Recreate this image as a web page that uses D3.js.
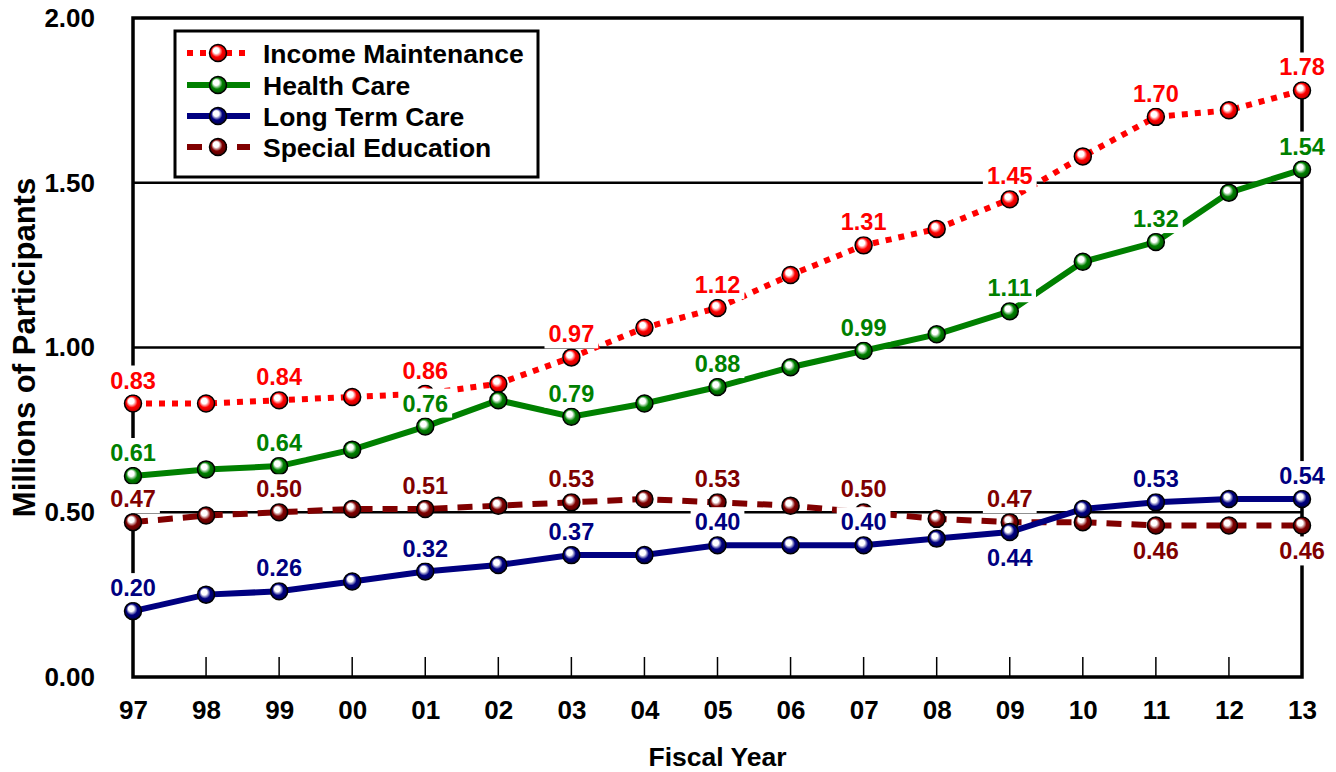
<!DOCTYPE html>
<html>
<head>
<meta charset="utf-8">
<script src="https://cdn.jsdelivr.net/npm/d3@7"></script>
<style>
  html, body { margin: 0; padding: 0; background: #fff; }
  svg { display: block; font-family: Arial, "Liberation Sans", sans-serif; font-weight: bold; }
</style>
</head>
<body>
<svg id="chart" width="1336" height="772"></svg>
<script>
// ---- Data ----
const years = ["97","98","99","00","01","02","03","04","05","06","07","08","09","10","11","12","13"];
const incomeMaintenance = [0.83,0.83,0.84,0.85,0.86,0.89,0.97,1.06,1.12,1.22,1.31,1.36,1.45,1.58,1.70,1.72,1.78];
const healthCare        = [0.61,0.63,0.64,0.69,0.76,0.84,0.79,0.83,0.88,0.94,0.99,1.04,1.11,1.26,1.32,1.47,1.54];
const longTermCare      = [0.20,0.25,0.26,0.29,0.32,0.34,0.37,0.37,0.40,0.40,0.40,0.42,0.44,0.51,0.53,0.54,0.54];
const specialEducation  = [0.47,0.49,0.50,0.51,0.51,0.52,0.53,0.54,0.53,0.52,0.50,0.48,0.47,0.47,0.46,0.46,0.46];
const yTicks = [0, 0.5, 1.0, 1.5, 2.0];
// label placement for labelled (every other) points: "a" above, "b" below
const labelPlaceIncome  = ["a","a","a","a","a","a","a","a","a"];
const labelPlaceHealth  = ["a","a","a","a","a","a","a","a","a"];
const labelPlaceLTC     = ["a","a","a","a","a","a","b","a","a"];
const labelPlaceSpecial = ["a","a","a","a","a","a","a","b","b"];

const series = [
  {name:"Income Maintenance", values:incomeMaintenance, color:"#ff0000", dark:"#a00000", dash:"6,7", place:labelPlaceIncome, id:"im"},
  {name:"Health Care",        values:healthCare,        color:"#008000", dark:"#004000", dash:null, place:labelPlaceHealth, id:"hc"},
  {name:"Long Term Care",     values:longTermCare,      color:"#000080", dark:"#000040", dash:null, place:labelPlaceLTC, id:"ltc"},
  {name:"Special Education",  values:specialEducation,  color:"#800000", dark:"#400000", dash:"15,10", place:labelPlaceSpecial, id:"se"}
];
const drawOrder = [0,1,3,2];

// ---- Layout ----
const svg = d3.select("#chart");
const L = 133, R = 1302, T = 18, B = 677;
const x = d3.scalePoint().domain(years).range([L, R]);
const y = d3.scaleLinear().domain([0, 2]).range([B, T]);
const FONT = "Arial, 'Liberation Sans', sans-serif";

// gradients
const defs = svg.append("defs");
series.forEach(s => {
  const g = defs.append("radialGradient").attr("id", "g-" + s.id)
    .attr("cx", "50%").attr("cy", "50%").attr("r", "60%").attr("fx", "35%").attr("fy", "30%");
  g.append("stop").attr("offset", "0%").attr("stop-color", "#ffffff");
  g.append("stop").attr("offset", "28%").attr("stop-color", "#ffffff");
  g.append("stop").attr("offset", "55%").attr("stop-color", s.color);
  g.append("stop").attr("offset", "100%").attr("stop-color", s.dark);
});

// gridlines
svg.append("g").selectAll("line").data(yTicks.filter(v => v > 0 && v < 2)).join("line")
  .attr("x1", L).attr("x2", R).attr("y1", d => y(d)).attr("y2", d => y(d))
  .attr("stroke", "#000").attr("stroke-width", 2.5);

// x tick marks (inside)
svg.append("g").selectAll("line").data(years.slice(1, -1)).join("line")
  .attr("x1", d => x(d)).attr("x2", d => x(d)).attr("y1", B).attr("y2", B - 20)
  .attr("stroke", "#000").attr("stroke-width", 1.5);

// frame
svg.append("rect").attr("x", L).attr("y", T).attr("width", R - L).attr("height", B - T)
  .attr("fill", "none").attr("stroke", "#000").attr("stroke-width", 3.5);

// y axis labels
const yAxis = d3.axisLeft(y).tickValues(yTicks).tickFormat(d3.format(".2f")).tickSize(0).tickPadding(38);
const gy = svg.append("g").attr("transform", `translate(${L},0)`).call(yAxis);
gy.select(".domain").remove();
gy.selectAll("text").attr("font-size", 26).attr("font-weight", "bold").attr("fill", "#000")
  .attr("font-family", FONT);

// x axis labels
const xAxis = d3.axisBottom(x).tickSize(0).tickPadding(24);
const gx = svg.append("g").attr("transform", `translate(0,${B})`).call(xAxis);
gx.select(".domain").remove();
gx.selectAll("text").attr("font-size", 26).attr("font-weight", "bold").attr("fill", "#000")
  .attr("font-family", FONT);

// axis titles
svg.append("text").attr("x", (L + R) / 2).attr("y", 766).attr("text-anchor", "middle")
  .attr("font-size", 26.5).text("Fiscal Year");
svg.append("text").attr("transform", `translate(35,${(T + B) / 2}) rotate(-90)`)
  .attr("text-anchor", "middle").attr("font-size", 31).text("Millions of Participants");

// lines
const line = d3.line().x((d, i) => x(years[i])).y(d => y(d));
drawOrder.forEach(k => {
  const s = series[k];
  svg.append("path").datum(s.values).attr("d", line).attr("fill", "none")
    .attr("stroke", s.color).attr("stroke-width", 6)
    .attr("stroke-dasharray", s.dash);
});
// markers
drawOrder.forEach(k => {
  const s = series[k];
  svg.append("g").selectAll("circle").data(s.values).join("circle")
    .attr("cx", (d, i) => x(years[i])).attr("cy", d => y(d)).attr("r", 8.5)
    .attr("fill", `url(#g-${s.id})`).attr("stroke", "#000").attr("stroke-width", 1.5);
});

// value labels (every other year)
const fmt = d3.format(".2f");
const labelsG = svg.append("g");
series.forEach(s => {
  s.values.forEach((v, i) => {
    if (i % 2 !== 0) return;
    const pl = s.place[i / 2];
    const cx = x(years[i]), cy = y(v);
    const by = pl === "a" ? cy - 15 : cy + 34;
    const g = labelsG.append("g");
    const t = g.append("text").attr("x", cx).attr("y", by).attr("text-anchor", "middle")
      .attr("font-size", 23.5).attr("fill", s.color).text(fmt(v));
    const bb = t.node().getBBox();
    g.insert("rect", "text").attr("x", bb.x - 4).attr("y", bb.y - 2)
      .attr("width", bb.width + 8).attr("height", bb.height + 3).attr("fill", "#fff");
  });
});

// legend
const lg = svg.append("g");
lg.append("rect").attr("x", 175).attr("y", 31).attr("width", 363).attr("height", 146)
  .attr("fill", "#fff").attr("stroke", "#000").attr("stroke-width", 3);
const rowY = [53, 85, 116, 147];
series.forEach((s, i) => {
  const ry = rowY[i];
  lg.append("line").attr("x1", 187).attr("x2", 250).attr("y1", ry).attr("y2", ry)
    .attr("stroke", s.color).attr("stroke-width", 6).attr("stroke-dasharray", s.dash);
  lg.append("circle").attr("cx", 218).attr("cy", ry).attr("r", 8.5)
    .attr("fill", `url(#g-${s.id})`).attr("stroke", "#000").attr("stroke-width", 1.5);
  lg.append("text").attr("x", 263).attr("y", ry + 9.5).attr("font-size", 26.5).attr("fill", "#000").text(s.name);
});
</script>
</body>
</html>
